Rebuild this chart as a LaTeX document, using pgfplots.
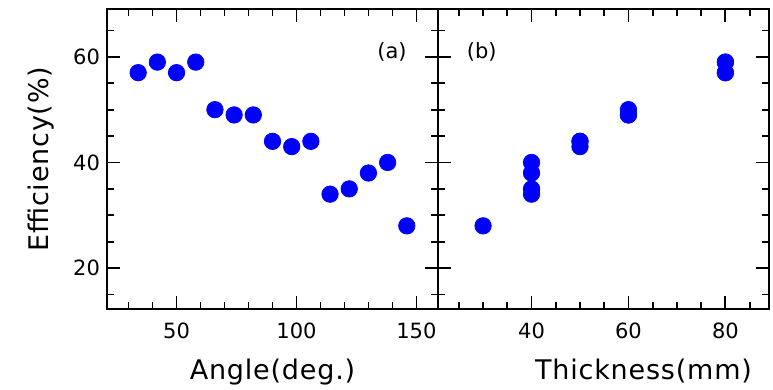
\documentclass[border=0pt]{standalone}
\usepackage{fontspec}
\setmainfont{DejaVu Sans}
\newfontfamily\lblfont[LetterSpace=3]{DejaVu Sans}
\usepackage{pgfplots}
\pgfplotsset{compat=1.18}
\begin{document}
\begin{tikzpicture}
\pgfplotsset{
  common/.style={
    scale only axis,
    width=165.5pt, height=150pt,
    ymin=12.2, ymax=69,
    ytick={20,40,60},
    minor ytick={15,25,30,35,45,50,55,65},
    xtick pos=both, ytick pos=both,
    xticklabel pos=lower, yticklabel pos=left,
    tick align=inside,
    major tick length=6.5pt, minor tick length=3.5pt,
    axis line style={line width=1pt, black},
    every tick/.style={black, line width=0.9pt},
    /pgf/number format/assume math mode=true,
    tick label style={font=\fontsize{10.5}{12}\selectfont},
    xticklabel style={yshift=-3.5pt},
    label style={font=\lblfont\fontsize{13.5}{15}\selectfont},
    xlabel style={yshift=-3pt},
    ylabel style={yshift=2.5pt},
    clip=false,
  },
}
\begin{axis}[common, name=A,
  xmin=21, xmax=159,
  xtick={50,100,150},
  minor xtick={30,40,60,70,80,90,110,120,130,140},
  xlabel={Angle(deg.)},
  ylabel={Efficiency(\%)},
]
\addplot[only marks, mark=*, mark size=4.1pt, mark options={fill=blue, draw=blue}]
  coordinates {(34,57) (42,59) (50,57) (58,59) (66,50) (74,49) (82,49) (90,44) (98,43) (106,44) (114,34) (122,35) (130,38) (138,40) (146,28)};
\node[font=\fontsize{10.5}{12}\selectfont] at (rel axis cs:0.861,0.858) {(a)};
\end{axis}
\begin{axis}[common, name=B, at={(A.south east)}, anchor=south west,
  xmin=20.7, xmax=89,
  xtick={40,60,80},
  minor xtick={25,30,35,45,50,55,65,70,75,85},
  yticklabels={,,},
  xlabel={Thickness(mm)},
  xlabel style={xshift=20pt},
]
\addplot[only marks, mark=*, mark size=4.1pt, mark options={fill=blue, draw=blue}]
  coordinates {(80,57) (80,59) (80,57) (80,59) (60,50) (60,49) (60,49) (50,44) (50,43) (50,44) (40,34) (40,35) (40,38) (40,40) (30,28)};
\node[font=\fontsize{10.5}{12}\selectfont] at (rel axis cs:0.132,0.858) {(b)};
\end{axis}
\pgfresetboundingbox
\path ([shift={(-53.5pt,-40.35pt)}]A.south west) rectangle ([shift={(333pt,154.65pt)}]A.south west);
\end{tikzpicture}
\end{document}
